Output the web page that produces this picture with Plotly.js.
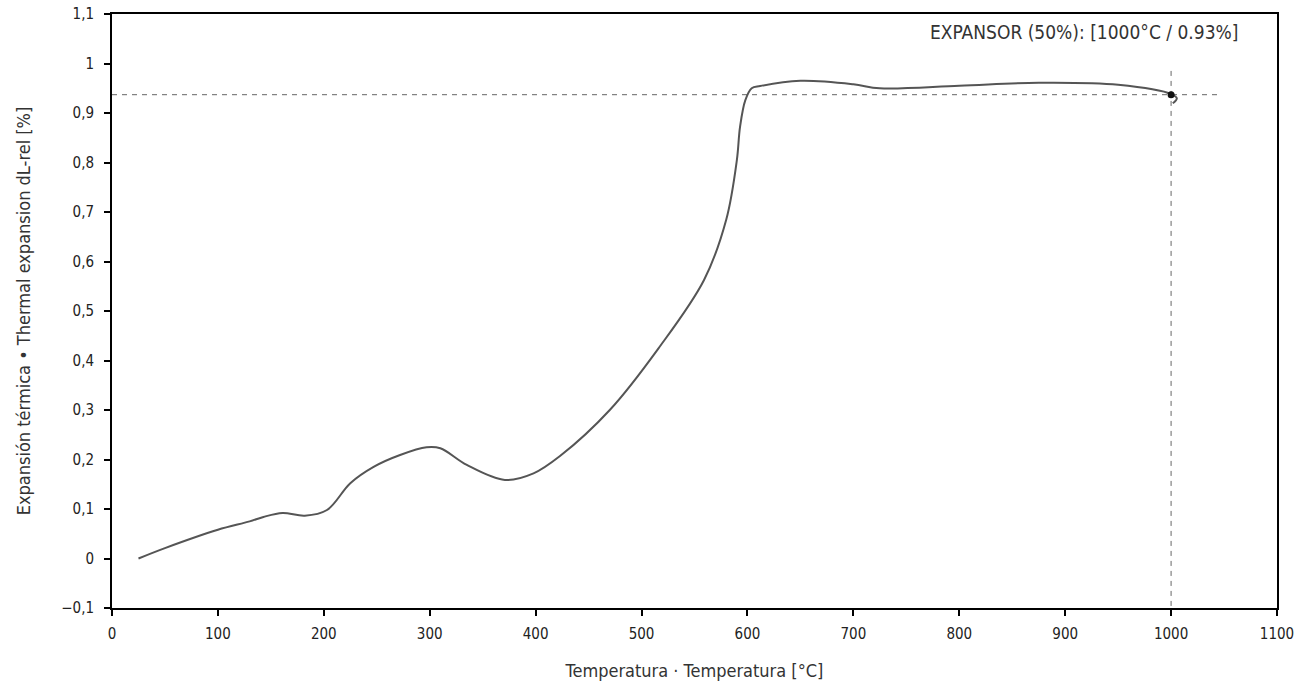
<!DOCTYPE html>
<html>
<head>
<meta charset="utf-8">
<script src="https://cdn.plot.ly/plotly-3.0.1.min.js"></script>
<style>html,body{margin:0;padding:0;background:#fff;}#chart{width:1307px;height:686px;}</style>
</head>
<body>
<div id="chart"></div>
<script>
const temperature = [25, 50, 100, 130, 143, 161, 182, 203, 225, 247, 272, 297, 310, 335, 371, 398, 423, 470, 516, 559, 580, 590, 593, 598, 604, 612, 650, 700, 725, 800, 875, 950, 1000.6, 1005.4, 1001.6];
const expansion   = [0.0, 0.021, 0.058, 0.075, 0.084, 0.092, 0.0865, 0.098, 0.152, 0.185, 0.209, 0.2246, 0.2226, 0.189, 0.1586, 0.172, 0.207, 0.3, 0.4246, 0.5626, 0.685, 0.805, 0.872, 0.926, 0.95, 0.9545, 0.965, 0.958, 0.95, 0.955, 0.961, 0.957, 0.9378, 0.9297, 0.9196];
const markerT = [1000];
const markerV = [0.937];
const refLineX = [0, 1046];
const refLineY = [0.937, 0.937];
const vLineX = [1000, 1000];
const vLineY = [0.985, -0.1];
const annotationText = "EXPANSOR (50%): [1000°C / 0.93%]";
const xTitle = "Temperatura · Temperatura [°C]";
const yTitle = "Expansión térmica • Thermal expansion dL-rel [%]";

const FONT = "'DejaVu Sans Condensed', 'Liberation Sans Narrow', sans-serif";

const traces = [
  {x: refLineX, y: refLineY, mode: 'lines', line: {color: '#666', width: 1, dash: '5px,5px'}, hoverinfo: 'skip', showlegend: false},
  {x: vLineX, y: vLineY, mode: 'lines', line: {color: '#666', width: 1, dash: '5px,5px'}, hoverinfo: 'skip', showlegend: false},
  {x: temperature, y: expansion, mode: 'lines', line: {color: '#555', width: 2, shape: 'spline', smoothing: 1}, showlegend: false},
  {x: markerT, y: markerV, mode: 'markers', marker: {color: '#111', size: 7}, showlegend: false}
];

const layout = {
  width: 1307, height: 686,
  margin: {l: 112, r: 30, t: 14, b: 78},
  paper_bgcolor: '#fff', plot_bgcolor: '#fff',
  separators: ',.',
  font: {family: FONT, color: '#222', size: 14},
  showlegend: false,
  xaxis: {
    range: [0, 1100], dtick: 100, tick0: 0,
    showgrid: false, zeroline: false,
    showline: true, linecolor: '#000', linewidth: 2, mirror: true,
    ticks: 'outside', ticklen: 6, tickwidth: 2, tickcolor: '#000',
    ticklabelstandoff: 5,
    tickfont: {family: FONT, size: 15, color: '#222'},
    title: {text: xTitle, font: {family: FONT, size: 18, color: '#333'}, standoff: 22}
  },
  yaxis: {
    range: [-0.1, 1.1], dtick: 0.1, tick0: 0,
    showgrid: false, zeroline: false,
    showline: true, linecolor: '#000', linewidth: 2, mirror: true,
    ticks: 'outside', ticklen: 6, tickwidth: 2, tickcolor: '#000',
    ticklabelstandoff: 7,
    tickfont: {family: FONT, size: 15, color: '#222'},
    title: {text: yTitle, font: {family: FONT, size: 18, color: '#333'}, standoff: 26}
  },
  annotations: [{
    text: annotationText, xref: 'paper', yref: 'paper', x: 0.968, y: 0.97,
    xanchor: 'right', yanchor: 'middle', showarrow: false,
    font: {family: FONT, size: 19, color: '#333'}
  }]
};

Plotly.newPlot('chart', traces, layout, {displayModeBar: false, staticPlot: true});
</script>
</body>
</html>
